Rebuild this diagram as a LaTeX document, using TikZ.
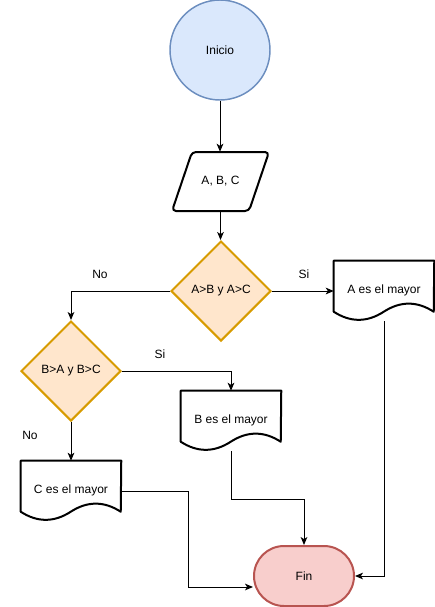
\documentclass[tikz,border=0pt]{standalone}
\usepackage{fontspec}
\setmainfont{Liberation Sans}
\usetikzlibrary{shapes.geometric,arrows.meta,calc}
\definecolor{bluefill}{HTML}{DAE8FC}
\definecolor{bluedraw}{HTML}{6C8EBF}
\definecolor{orangefill}{HTML}{FFE6CC}
\definecolor{orangedraw}{HTML}{D79B00}
\definecolor{redfill}{HTML}{F8CECC}
\definecolor{reddraw}{HTML}{B85450}
\tikzset{
  every node/.style={font=\fontsize{9pt}{11pt}\selectfont},
  startnode/.style={circle,draw=bluedraw,fill=bluefill,line width=1.1pt,minimum size=75pt,inner sep=0pt},
  decisionnode/.style={diamond,draw=orangedraw,fill=orangefill,line width=1.5pt,minimum width=75pt,minimum height=75pt,inner sep=0pt},
  endnode/.style={rectangle,rounded corners=22.5pt,draw=reddraw,fill=redfill,line width=1.5pt,minimum width=75pt,minimum height=45pt,inner sep=0pt},
  boxnode/.style={rectangle,minimum width=75pt,minimum height=45pt,inner sep=0pt},
  ionode/.style={rectangle,minimum width=72.75pt,minimum height=44.25pt,inner sep=0pt},
  shapeline/.style={draw=black,line width=1.5pt,line join=round},
  conn/.style={draw=black,line width=0.75pt,-{Stealth[length=6pt,width=5pt,inset=1.6pt]}},
  lbl/.style={inner sep=0pt}
}
\newcommand{\docpath}[1]{%
  \draw[shapeline,fill=white] ($(#1.north west)+(0,51)$) -- (#1.north west) -- (#1.north east) -- ($(#1.north west)+(100,51)$)
    .. controls ($(#1.north west)+(83.33,40.2)$) and ($(#1.north west)+(66.67,40.2)$) .. ($(#1.north west)+(50,51)$)
    .. controls ($(#1.north west)+(33.33,61.8)$) and ($(#1.north west)+(16.67,61.8)$) .. ($(#1.north west)+(0,51)$) -- cycle;
}
\begin{document}
\begin{tikzpicture}[x=0.75pt,y=-0.75pt]
\useasboundingbox (0,0) rectangle (435,607);
% start
\node[startnode] (inicio) at (220,50) {Inicio};
% input
\draw[shapeline,fill=white,rounded corners=3pt] (192,152) -- (269,152) -- (249,211) -- (172,211) -- cycle;
\node[ionode] (abc) at (220.5,181.5) {A, B, C};
% decisions
\node[decisionnode] (d1) at (221,291) {A>B y A>C};
\node[decisionnode] (d2) at (71,371) {B>A y B>C};
% documents
\node[boxnode] (docA) at (384,291) {};
\docpath{docA}
\node[lbl] at (384,290) {A es el mayor};
\node[boxnode] (docB) at (231,421) {};
\docpath{docB}
\node[lbl] at (231,420) {B es el mayor};
\node[boxnode] (docC) at (71,491) {};
\docpath{docC}
\node[lbl] at (71,490) {C es el mayor};
% end
\node[endnode] (fin) at (304,576) {Fin};
\coordinate (finin) at (253,587);
% connectors
\draw[conn] (inicio.south) -- (inicio.south |- abc.north);
\draw[conn] (abc.south) -- (abc.south |- d1.north);
\draw[conn] (d1.east) -- (docA.west);
\draw[conn] (d1.west) -| (d2.north);
\draw[conn] (d2.east) -| (docB.north);
\draw[conn] (d2.south) -- (docC.north);
\draw[conn] (docA.south) |- (fin.east);
\draw[conn] (docB.south) -- ++(0,48) -| (fin.north);
\draw[conn] (docC.east) -- ++(67,0) |- (finin);
% labels
\node[lbl] (l1) at (100,274) {No};
\node[lbl] (l2) at (304,274) {Si};
\node[lbl] (l3) at (160,354) {Si};
\node[lbl] (l4) at (30,435) {No};
\end{tikzpicture}
\end{document}
